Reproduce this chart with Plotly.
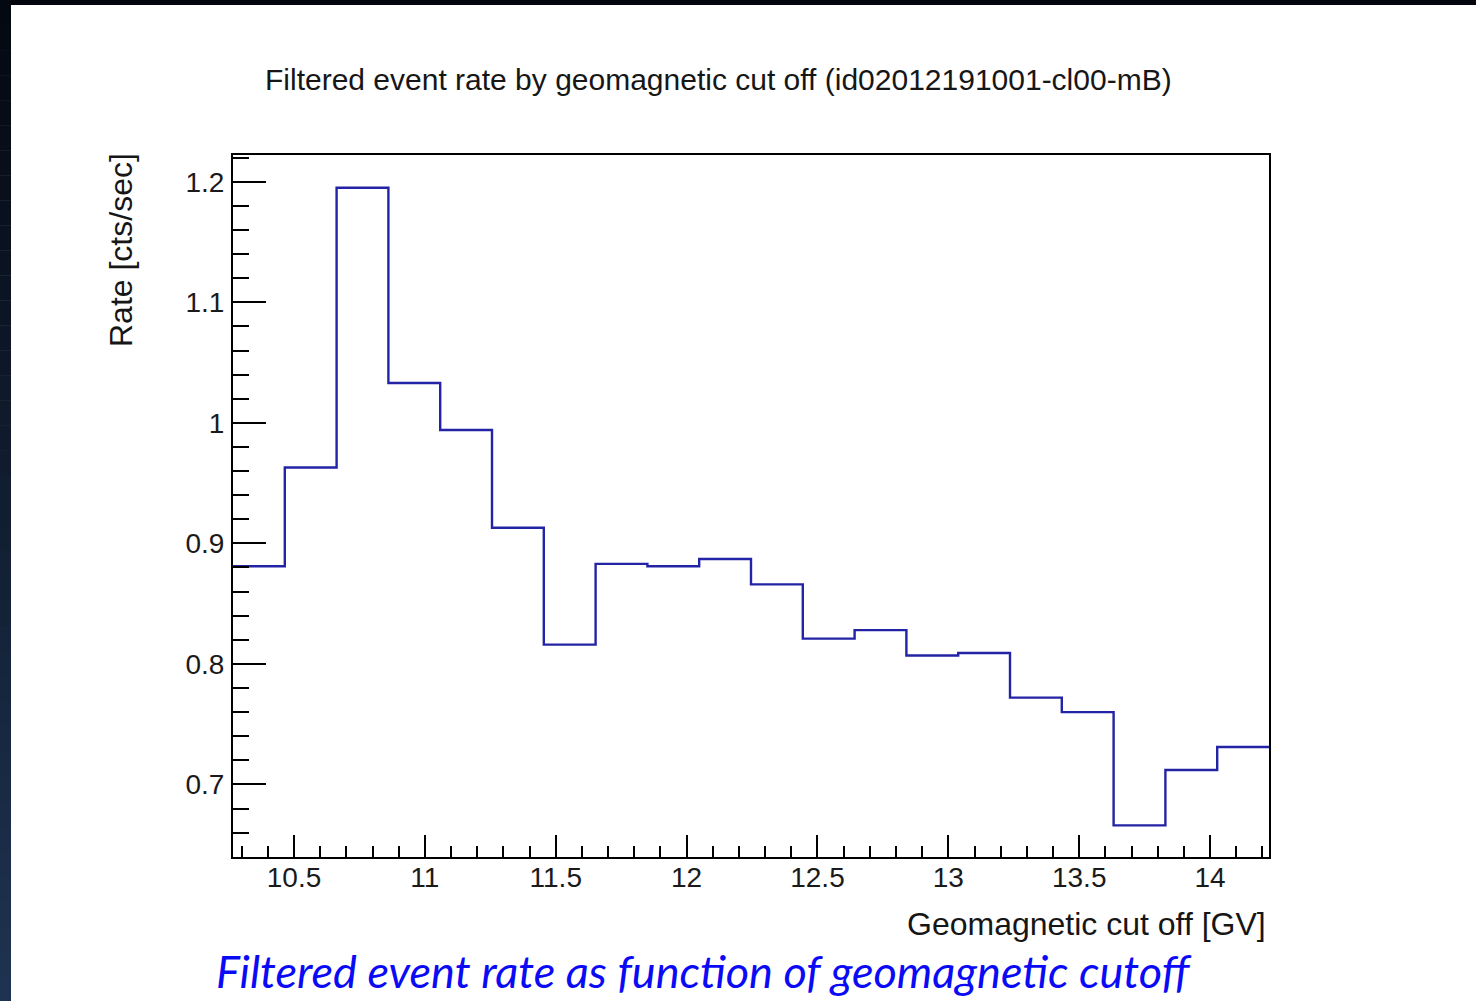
import numpy as np
import plotly.graph_objects as go

# Histogram: filtered event rate per geomagnetic cut-off bin
X_LO, X_HI = 10.267, 14.225
N_BINS = 20
RATE = [0.881, 0.963, 1.195, 1.033, 0.994, 0.913, 0.816, 0.883, 0.881, 0.887,
        0.866, 0.821, 0.828, 0.807, 0.809, 0.772, 0.760, 0.666, 0.712, 0.731]
Y_RANGE = [0.6398, 1.2222]

TITLE = "Filtered event rate by geomagnetic cut off (id02012191001-cl00-mB)"
X_TITLE = "Geomagnetic cut off [GV]"
Y_TITLE = "Rate [cts/sec]"
CAPTION = "Filtered event rate as function of geomagnetic cutoff"

W, H = 1476, 1001
L, R, T, B = 233, 207, 155, 144
PW, PH = W - L - R, H - T - B


def px(x):
    return (x - L) / PW


def py(y):
    return 1 - (y - T) / PH


edges = np.linspace(X_LO, X_HI, N_BINS + 1)
step_y = list(RATE) + [RATE[-1]]

fig = go.Figure()
fig.add_trace(go.Scatter(
    x=edges, y=step_y, mode="lines", line_shape="hv",
    line=dict(color="#2323a6", width=2.4),
    showlegend=False, hoverinfo="skip",
))

font = "Liberation Sans, Arial, Helvetica, sans-serif"
axis_common = dict(
    showgrid=False, zeroline=False, showline=True, linecolor="black",
    linewidth=2, mirror=True, ticks="inside", tickcolor="black",
    tickwidth=2, tickfont=dict(family=font, size=28, color="#1a1a1a"),
)

fig.update_xaxes(
    range=[X_LO, X_HI], tick0=10, dtick=0.5, ticklen=22,
    minor=dict(tick0=10, dtick=0.1, ticklen=11, ticks="inside",
               tickcolor="black", tickwidth=2),
    ticklabelstandoff=-6,
    **axis_common,
)
fig.update_yaxes(
    range=Y_RANGE, tick0=0.7, dtick=0.1, ticklen=33,
    minor=dict(tick0=0.7, dtick=0.02, ticklen=16, ticks="inside",
               tickcolor="black", tickwidth=2),
    ticklabelstandoff=1,
    **axis_common,
)

# dark slide border: top band and left band with a vertical gradient
shapes = [dict(type="rect", xref="paper", yref="paper",
               x0=px(0), x1=px(W), y0=py(0), y1=py(5),
               fillcolor="#03060d", line_width=0, layer="above")]
n_seg = 40
c_top = np.array([4, 8, 16])
c_bot = np.array([31, 52, 82])
for i in range(n_seg):
    f = (i + 0.5) / n_seg
    c = (c_top * (1 - f) + c_bot * f).astype(int)
    y0 = i * H / n_seg
    y1 = (i + 1) * H / n_seg + 0.5
    shapes.append(dict(type="rect", xref="paper", yref="paper",
                       x0=px(0), x1=px(11), y0=py(y0), y1=py(y1),
                       fillcolor=f"rgb({c[0]},{c[1]},{c[2]})",
                       line_width=0, layer="above"))

annotations = [
    dict(text=TITLE, x=px(718.5), y=py(80), xref="paper", yref="paper",
         xanchor="center", yanchor="middle", showarrow=False,
         font=dict(family=font, size=30, color="#161616")),
    dict(text=Y_TITLE, x=px(121), y=py(250), xref="paper", yref="paper",
         xanchor="center", yanchor="middle", textangle=-90, showarrow=False,
         font=dict(family=font, size=32, color="#161616")),
    dict(text=X_TITLE, x=px(1268), y=py(924), xref="paper", yref="paper",
         xanchor="right", yanchor="middle", showarrow=False,
         font=dict(family=font, size=32, color="#161616")),
    dict(text=f"<i>{CAPTION}</i>", x=px(704), y=py(971), xref="paper",
         yref="paper", xanchor="center", yanchor="middle", showarrow=False,
         font=dict(family="Lato, Carlito, sans-serif", size=45,
                   color="#0a0af5")),
]

fig.update_layout(
    width=W, height=H,
    margin=dict(l=L, r=R, t=T, b=B, pad=0),
    paper_bgcolor="white", plot_bgcolor="white",
    shapes=shapes, annotations=annotations,
)

fig.write_html("out.html")
